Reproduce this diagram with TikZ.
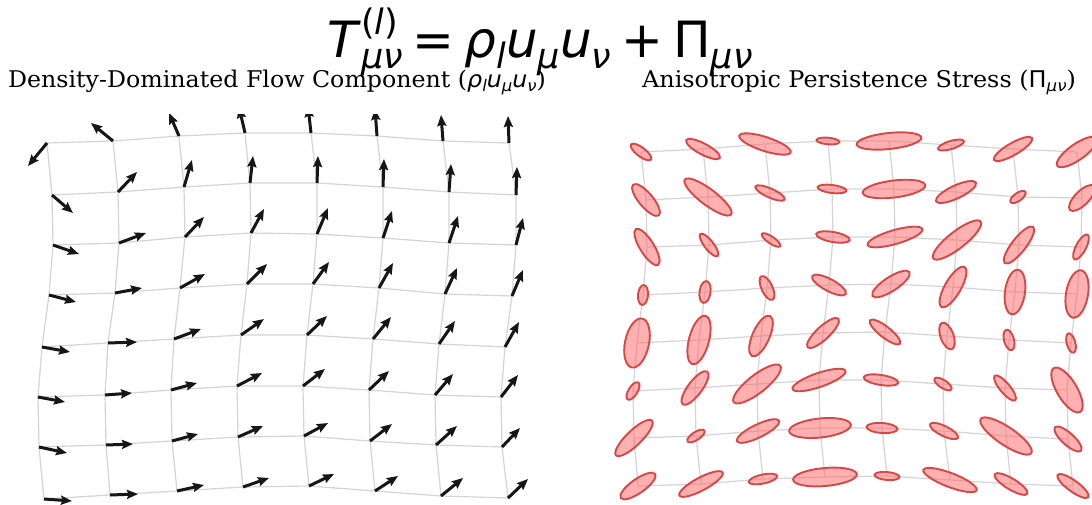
\documentclass[tikz,border=0pt]{standalone}
\usepackage{fontspec}
\usepackage{graphicx}
\setmainfont{DejaVu Serif}
\newfontfamily\dvs{DejaVu Sans}
\usetikzlibrary{arrows.meta}
\definecolor{gridc}{RGB}{212,212,212}
\definecolor{arrc}{RGB}{22,22,22}
\definecolor{ellfill}{RGB}{255,100,100}
\definecolor{elldraw}{RGB}{214,72,72}
\newcommand\tsub[1]{\raisebox{-11pt}{\fontsize{35}{40}\selectfont #1}}
\newcommand\tsup[1]{\raisebox{23pt}{\fontsize{35}{40}\selectfont #1}}
\newcommand\ssub[1]{\raisebox{-4pt}{\fontsize{16}{18}\selectfont #1}}
\tikzset{
  gridline/.style={draw=gridc, line width=1.2pt},
  arr/.style={draw=arrc, line width=3pt, -{Stealth[length=11pt,width=9pt,inset=1.5pt]}},
  ell/.style={fill=ellfill, fill opacity=0.5, draw=elldraw, line width=1.9pt},
  titletext/.style={inner sep=0pt, font=\dvs\fontsize{50}{60}\selectfont},
  subtext/.style={inner sep=0pt, font=\fontsize{23}{27}\selectfont}
}
\begin{document}
\begin{tikzpicture}[x=1pt,y=-1pt]
\useasboundingbox[fill=white] (0,0) rectangle (1092,504);

% titles
\node[titletext, anchor=base] (title) at (540,57)
  {\textit{T}\rlap{\tsup{(\textit{l})}}\tsub{\textit{μν}}\hspace{0.2em}=\hspace{0.2em}\textit{ρ}\tsub{\textit{l}}\textit{u}\tsub{\textit{μ}}\textit{u}\tsub{\textit{ν}}\hspace{0.2em}+\hspace{0.2em}Π\tsub{\textit{μν}}};
\node[subtext, anchor=base] (subL) at (277,87)
  {\scalebox{1.03}[1]{Density-Dominated Flow Component ({\dvs\textit{ρ}\ssub{\textit{l}}\textit{u}\ssub{\textit{μ}}\textit{u}\ssub{\textit{ν}}})}};
\node[subtext, anchor=base] (subR) at (859,87)
  {\scalebox{1.04}[1]{Anisotropic Persistence Stress ({\dvs Π\ssub{\textit{μν}}})}};

% ---------- left panel: grid + arrows ----------
\foreach \i/\j/\x/\y in {
 1/1/47/143, 2/1/52/195, 3/1/53/245, 4/1/49/295, 5/1/42/347, 6/1/38/397, 7/1/39/447, 8/1/44/499,
 1/2/113/141, 2/2/118/192, 3/2/119/243, 4/2/115/293, 5/2/108/343, 6/2/105/395, 7/2/106/445, 8/2/110/495,
 1/3/179/136, 2/3/184/187, 3/3/185/237, 4/3/180/288, 5/3/174/339, 6/3/171/390, 7/3/172/441, 8/3/177/491,
 1/4/245/133, 2/4/250/183, 3/4/251/233, 4/4/247/284, 5/4/241/335, 6/4/237/386, 7/4/238/437, 8/4/243/487,
 1/5/311/133, 2/5/317/183, 3/5/317/234, 4/5/313/284, 5/5/307/335, 6/5/303/386, 7/5/304/436, 8/5/309/486,
 1/6/377/136, 2/6/383/187, 3/6/383/238, 4/6/379/288, 5/6/373/339, 6/6/369/390, 7/6/370/441, 8/6/375/491,
 1/7/443/141, 2/7/449/192, 3/7/449/243, 4/7/445/294, 5/7/439/344, 6/7/435/395, 7/7/436/445, 8/7/441/496,
 1/8/509/143, 2/8/516/195, 3/8/516/245, 4/8/512/296, 5/8/505/347, 6/8/501/397, 7/8/502/447, 8/8/508/498}
  \coordinate (L-\i-\j) at (\x,\y);

\foreach \i in {1,...,8} {
  \draw[gridline] (L-\i-1) \foreach \j in {2,...,8} { -- (L-\i-\j) };
  \draw[gridline] (L-1-\i) \foreach \j in {2,...,8} { -- (L-\j-\i) };
}

\begin{scope}
\clip (0,114) rectangle (548,504);
\foreach \i/\j/\dx/\dy in {
 1/1/-19/23, 1/2/-22/-18, 1/3/-10/-23, 1/4/-6/-26, 1/5/-3/-27, 1/6/-2/-27, 1/7/-2/-26, 1/8/-1/-27,
 2/1/21/18, 2/2/19/-20, 2/3/8/-27, 2/4/3/-27, 2/5/1/-27, 2/6/1/-28, 2/7/2/-28, 2/8/1/-28,
 3/1/26/9, 3/2/27/-10, 3/3/19/-20, 3/4/13/-24, 3/5/11/-26, 3/6/9/-27, 3/7/9/-27, 3/8/7/-27,
 4/1/27/7, 4/2/27/-5, 4/3/25/-14, 4/4/20/-20, 4/5/16/-22, 4/6/14/-25, 4/7/12/-26, 4/8/11/-26,
 5/1/28/5, 5/2/29/-1, 5/3/27/-10, 5/4/23/-16, 5/5/20/-19, 5/6/18/-22, 5/7/16/-23, 5/8/14/-25,
 6/1/27/5, 6/2/27/-2, 6/3/26/-7, 6/4/25/-13, 6/5/22/-17, 6/6/20/-19, 6/7/18/-21, 6/8/17/-22,
 7/1/28/6, 7/2/27/-1, 7/3/26/-7, 7/4/25/-11, 7/5/24/-13, 7/6/22/-17, 7/7/21/-19, 7/8/18/-19,
 8/1/28/2, 8/2/28/-1, 8/3/27/-6, 8/4/26/-9, 8/5/25/-12, 8/6/23/-15, 8/7/22/-18, 8/8/20/-19}
  \draw[arr] (L-\i-\j) -- ++(\dx,\dy);
\end{scope}

% ---------- right panel: grid + ellipses ----------
\foreach \i/\j/\x/\y in {
 1/1/641/152, 1/2/703/149, 1/3/765/144, 1/4/828/141, 1/5/889/141, 1/6/951/145, 1/7/1013/149, 1/8/1077/152,
 2/1/646/200, 2/2/708/197, 2/3/770/193, 2/4/832/189, 2/5/894/189, 2/6/956/192, 2/7/1018/197, 2/8/1082/198,
 3/1/647/247, 3/2/709/245, 3/3/771/240, 3/4/833/237, 3/5/895/237, 3/6/957/240, 3/7/1019/245, 3/8/1081/247,
 4/1/643/295, 4/2/705/292, 4/3/767/288, 4/4/829/285, 4/5/891/284, 4/6/953/287, 4/7/1015/292, 4/8/1077/294,
 5/1/637/343, 5/2/699/340, 5/3/761/336, 5/4/823/333, 5/5/885/332, 5/6/947/336, 5/7/1009/340, 5/8/1071/343,
 6/1/633/391, 6/2/695/388, 6/3/757/384, 6/4/819/380, 6/5/881/380, 6/6/943/384, 6/7/1005/388, 6/8/1067/390,
 7/1/634/438, 7/2/696/436, 7/3/758/431, 7/4/820/428, 7/5/882/428, 7/6/944/431, 7/7/1006/436, 7/8/1068/439,
 8/1/638/486, 8/2/701/484, 8/3/763/479, 8/4/825/477, 8/5/887/476, 8/6/950/480, 8/7/1011/484, 8/8/1073/486}
  \coordinate (R-\i-\j) at (\x,\y);

\begin{scope}
\clip (560,114) rectangle (1092,504);
\foreach \i in {1,...,8} {
  \draw[gridline] (R-\i-1) \foreach \j in {2,...,8} { -- (R-\i-\j) };
  \draw[gridline] (R-1-\i) \foreach \j in {2,...,8} { -- (R-\j-\i) };
}
\foreach \i/\j/\a/\b/\t in {
 1/1/12.5/4.5/-37, 1/2/19/5.5/-28, 1/3/27/7/-18, 1/4/11.5/3.3/-5, 1/5/32.5/8/6, 1/6/13.5/4/17, 1/7/22/6/30, 1/8/24/8/35,
 2/1/20/7/-50, 2/2/29/8/-37, 2/3/16/4.5/-24, 2/4/14.5/4/-7, 2/5/31.5/8.5/7, 2/6/22/6.5/25, 2/7/9/4/35, 2/8/17/7/45,
 3/1/21/7/-58, 3/2/14/4.5/-52, 3/3/11/3.5/-34, 3/4/17/5/-10, 3/5/28.5/7/16, 3/6/30/8.5/38, 3/7/23/7/52, 3/8/14/5/62,
 4/1/10/5/85, 4/2/11/5.5/82, 4/3/13/5.5/-65, 4/4/19/6/-28, 4/5/22/7/33, 4/6/23/8/60, 4/7/22.5/10/82, 4/8/24/11/80,
 5/1/25/12/78, 5/2/25/10/75, 5/3/22/8.5/66, 5/4/21/6.5/43, 5/5/19/5.5/-38, 5/6/14/6.5/-70, 5/7/10.5/5/-75, 5/8/10/4.3/-75,
 6/1/10/4.5/58, 6/2/20.5/7/53, 6/3/29.5/9/38, 6/4/28/7/19, 6/5/17.5/5/-9, 6/6/10/4/-33, 6/7/16/5/-50, 6/8/25.5/10/-59,
 7/1/25/7.5/44, 7/2/10/4/33, 7/3/23.5/6.5/26, 7/4/31/9.5/6, 7/5/15.5/5/-4, 7/6/15.5/5/-26, 7/7/30.5/9/-34, 7/8/17.5/6/-42,
 8/1/21/7/35, 8/2/24.5/6.5/28, 8/3/14.5/4.5/12, 8/4/32/9/5, 8/5/12.5/4/-5, 8/6/28.5/7/-21, 8/7/19/5.5/-31, 8/8/19/5.5/-36}
  \draw[ell, shift={(R-\i-\j)}, rotate=\t] (0,0) ellipse [x radius=\a pt, y radius=\b pt];
\end{scope}
\end{tikzpicture}
\end{document}
